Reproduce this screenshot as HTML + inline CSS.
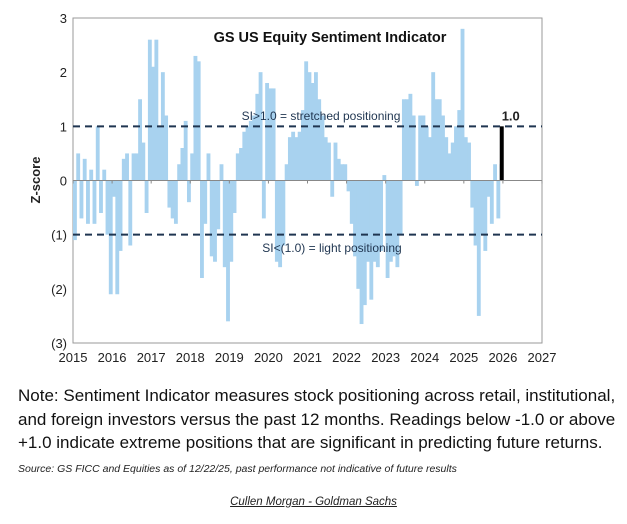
<!DOCTYPE html>
<html><head><meta charset="utf-8"><style>
body{margin:0;width:627px;height:524px;background:#fff;font-family:"Liberation Sans",sans-serif;overflow:hidden;position:relative}
.note{position:absolute;left:18px;top:384px;font-size:17px;line-height:23.5px;color:#111;width:605px}
.src{position:absolute;left:18px;top:463px;font-size:10.5px;font-style:italic;color:#222}
.auth{position:absolute;left:0;width:627px;top:496px;text-align:center;font-size:11.5px;font-style:italic;text-decoration:underline;color:#222}
</style></head><body>
<svg id="chart" width="627" height="380" style="position:absolute;left:0;top:0" font-family="Liberation Sans, sans-serif"></svg>
<div class="note">Note: Sentiment Indicator measures stock positioning across retail, institutional, and foreign investors versus the past 12 months. Readings below -1.0 or above +1.0 indicate extreme positions that are significant in predicting future returns.</div>
<div class="src">Source: GS FICC and Equities as of 12/22/25, past performance not indicative of future results</div>
<div class="auth">Cullen Morgan - Goldman Sachs</div>
<script>
const startYear = 2015;
const values = [
-1.1,0.5,-0.7,0.4,-0.8,0.2,-0.8,1.0,-0.6,0.2,-1.0,-2.1,
-0.3,-2.1,-1.3,0.4,0.5,-1.2,0.5,0.5,1.5,0.7,-0.6,2.6,
2.1,2.6,1.0,2.0,1.2,-0.5,-0.7,-0.8,0.3,0.6,1.1,-0.4,
0.5,2.3,2.2,-1.8,-0.8,0.5,-1.4,-1.5,-0.9,0.3,-1.6,-2.6,
-1.5,-0.6,0.5,0.6,0.9,1.0,1.1,1.2,1.6,2.0,-0.7,1.8,
1.7,1.7,-1.5,-1.6,-1.2,0.3,0.8,0.9,0.8,0.9,1.3,2.2,
2.0,1.8,2.0,1.5,1.2,0.8,0.7,-0.3,0.7,0.4,0.3,0.3,
-0.2,-0.8,-1.4,-2.0,-2.65,-2.3,-1.5,-2.2,-1.5,-1.6,-1.3,0.1,
-1.8,-1.5,-1.4,-1.6,-1.0,1.5,1.5,1.6,1.2,-0.1,1.2,1.2,
1.0,0.8,2.0,1.5,1.5,1.2,0.8,0.5,0.7,1.0,1.3,2.8,
0.8,0.7,-0.5,-1.2,-2.5,-1.0,-1.3,-0.3,-0.8,0.3,-0.7,0.3];
const latestValue = 1.0;
const latestDate = 2025.97;
const xTicks = [2015,2016,2017,2018,2019,2020,2021,2022,2023,2024,2025,2026,2027];
const yTicks = [3,2,1,0,-1,-2,-3];
const yTickLabels = ["3","2","1","0","(1)","(2)","(3)"];
const NS="http://www.w3.org/2000/svg";
const svg=document.getElementById('chart');
const X0=73,X1=542,Y0=18,Y1=343;
const x=t=>X0+(t-2015)/(2027-2015)*(X1-X0);
const y=v=>Y0+(3-v)/6*(Y1-Y0);
function mk(tag,attrs,parent){const e=document.createElementNS(NS,tag);for(const k in attrs)e.setAttribute(k,attrs[k]);(parent||svg).appendChild(e);return e;}
let e=mk('rect',{x:X0,y:Y0,width:X1-X0,height:Y1-Y0,fill:'none',stroke:'#999','stroke-width':1});


const bw=(x(2016)-x(2015))/12;
values.forEach((v,i)=>{const t=startYear+i/12;const b=mk('rect',{x:x(t),y:Math.min(y(v),y(0)),width:bw+0.6,height:Math.abs(y(v)-y(0)),fill:'#a8d2ef'});

});
e=mk('rect',{x:x(latestDate)-2,y:y(latestValue),width:4,height:y(0)-y(latestValue),fill:'#000'});


e=mk('line',{x1:X0,x2:X1,y1:y(0),y2:y(0),stroke:'#888','stroke-width':1});


xTicks.forEach(t=>{const l=mk('line',{x1:x(t),x2:x(t),y1:y(0),y2:y(0)+3,stroke:'#888'});


const tx=mk('text',{x:x(t),y:Y1+19,'text-anchor':'middle','font-size':13,fill:'#222'});tx.textContent=t;

});
yTicks.forEach((v,i)=>{const tx=mk('text',{x:X0-6,y:y(v)+5,'text-anchor':'end','font-size':13,fill:'#222'});tx.textContent=yTickLabels[i];

});
[1,-1].forEach(v=>{const l=mk('line',{x1:X0,x2:X1,y1:y(v),y2:y(v),stroke:'#1f3550','stroke-width':2,'stroke-dasharray':'7,5'});

});
e=mk('text',{x:40,y:180,'text-anchor':'middle','font-size':13,'font-weight':'bold',fill:'#222',transform:'rotate(-90 40 180)'});e.textContent='Z-score';


e=mk('text',{x:330,y:42,'text-anchor':'middle','font-size':14.5,'font-weight':'bold',fill:'#111'});e.textContent='GS US Equity  Sentiment Indicator';


e=mk('text',{x:321,y:120,'text-anchor':'middle','font-size':12,fill:'#1f3550'});e.textContent='SI>1.0 = stretched positioning';


e=mk('text',{x:332,y:252,'text-anchor':'middle','font-size':12,fill:'#1f3550'});e.textContent='SI<(1.0) = light positioning';


e=mk('text',{x:x(latestDate)+9,y:y(latestValue)-6,'text-anchor':'middle','font-size':13,'font-weight':'bold',fill:'#222'});e.textContent=latestValue.toFixed(1);


</script>
</body></html>
